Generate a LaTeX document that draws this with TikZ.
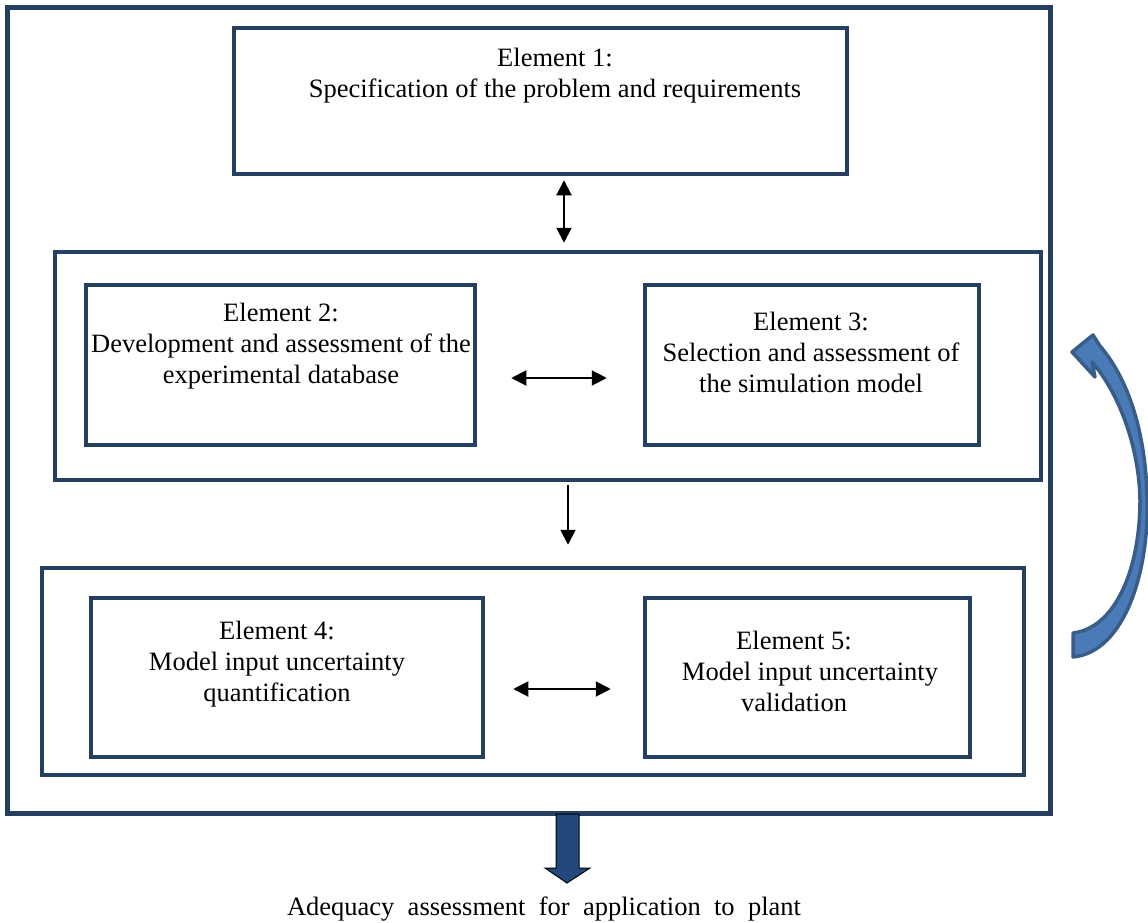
\documentclass[tikz,border=0pt]{standalone}
\usepackage{fontspec}
\setmainfont{Liberation Serif}
\usetikzlibrary{arrows.meta}
\definecolor{frame}{HTML}{243F60}
\definecolor{blockfill}{HTML}{23497C}
\definecolor{curvefill}{HTML}{4A7BB7}
\definecolor{curveline}{HTML}{385D8A}
\tikzset{
  boxframe/.style={draw=frame, line width=4.5pt, minimum width=#1, inner sep=0pt},
  label text/.style={align=center, font=\fontsize{26.5}{31}\selectfont, inner sep=0pt},
  tip/.style={-{Triangle[length=15pt,width=15pt]}, line width=2pt},
  dbltip/.style={{Triangle[length=15pt,width=15pt]}-{Triangle[length=15pt,width=15pt]}, line width=2pt},
}
\begin{document}
\begin{tikzpicture}[x=1pt,y=-1pt]
\useasboundingbox (0,0) rectangle (1148,923);
\fill[white] (0,0) rectangle (1148,923);

% outer frame
\node[draw=frame, line width=5pt, minimum width=1043pt, minimum height=805pt, inner sep=0pt] (outer) at (528.5,410.5) {};

% element 1
\node[boxframe=613pt, minimum height=146pt] (box1) at (540.5,101) {};
\node[label text] (t1) at (555,76) {Element 1:\\Specification of the problem and requirements};

% group of elements 2 and 3
\node[boxframe=986pt, minimum height=228pt] (g2) at (548,366) {};
\node[boxframe=389pt, minimum height=160pt] (box2) at (280.5,365) {};
\node[boxframe=334pt, minimum height=160pt] (box3) at (812,365) {};
\node[label text] (t2) at (281,346.5) {Element 2:\\Development and assessment of the\\experimental database};
\node[label text] (t3) at (811,352) {Element 3:\\Selection and assessment of\\the simulation model};

% group of elements 4 and 5
\node[boxframe=982pt, minimum height=207pt] (g3) at (533,671.5) {};
\node[boxframe=392pt, minimum height=159pt] (box4) at (287,677.5) {};
\node[boxframe=325pt, minimum height=159pt] (box5) at (807.5,677.5) {};
\node[label text] (t4) at (277,664.5) {Element 4:\\Model input uncertainty\\quantification};
\node[label text] (t5) at (794,671.5) {Element 5:\\\hspace{32pt}Model input uncertainty\\validation};

% connectors
\draw[dbltip, shorten <=4pt, shorten >=7pt] ([xshift=23.5pt]box1.south) -- ([xshift=16pt]g2.north);
\draw[dbltip, shorten <=34pt, shorten >=36pt] ([yshift=-13pt]box2.east) -- ([yshift=-13pt]box3.west);
\draw[tip, shorten <=3pt, shorten >=21pt] ([xshift=20pt]g2.south) -- ([xshift=35pt]g3.north);
\draw[dbltip, shorten <=28pt, shorten >=32pt] ([yshift=-11.5pt]box4.east) -- ([yshift=-11.5pt]box5.west);

% output block arrow
\coordinate (tipout) at (567,883);
\draw[fill=blockfill, draw=black, line width=1pt]
  (556,814) -- (579,814) -- (579,868) -- (590,868) -- (tipout) -- (545,868) -- (556,868) -- cycle;
\node[font=\fontsize{26.5}{31}\selectfont, inner sep=0pt] (outtext) at (544,909)
  {\makebox[514pt][s]{Adequacy assessment for application to plant}};

% feedback arrow
\draw[fill=curvefill, draw=curveline, line width=3.5pt, line join=round]
  (1073,657) .. controls (1125,652) and (1150,570) .. (1147,495)
  .. controls (1145,425) and (1125,375) .. (1100,346)
  -- (1093,335) -- (1072,352) -- (1095,377) -- (1092,362)
  .. controls (1118,392) and (1139,445) .. (1140,500)
  .. controls (1140,570) and (1115,628) .. (1073,633) -- cycle;
\end{tikzpicture}
\end{document}
